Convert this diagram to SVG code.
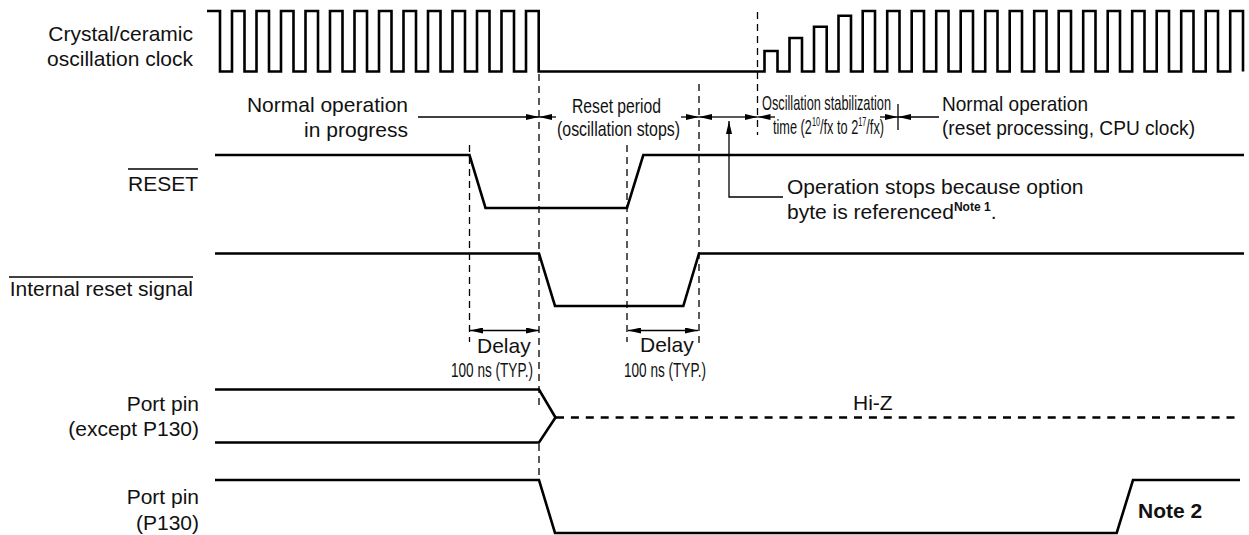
<svg xmlns="http://www.w3.org/2000/svg" width="1249" height="535" viewBox="0 0 1249 535">
<defs>
<marker id="ah" viewBox="0 0 13 6" refX="13" refY="3" markerWidth="13" markerHeight="6" markerUnits="userSpaceOnUse" orient="auto"><path d="M0 0L13 3L0 6Z" fill="#000"/></marker>
</defs>
<style>
text{font-family:"Liberation Sans",Arial,sans-serif;font-size:21px;fill:#111}
.e{text-anchor:end}
.sig{fill:none;stroke:#000;stroke-width:2.6;stroke-linejoin:miter}
.thin{fill:none;stroke:#000;stroke-width:1.3}
.arr{fill:none;stroke:#000;stroke-width:1.3;marker-end:url(#ah)}
.dash{fill:none;stroke:#000;stroke-width:1.3;stroke-dasharray:7 5}
.hiz{fill:none;stroke:#000;stroke-width:2.6;stroke-dasharray:8 6.9}
.sup{font-size:12px}
</style>
<g id="clock">
<path class="sig" d="M207 11H220V71.5H232V11H244.5V71.5H256.5V11H269V71.5H281V11H293.5V71.5H305.5V11H318V71.5H330V11H342.5V71.5H354.5V11H367V71.5H379V11H391.5V71.5H403.5V11H416V71.5H428V11H440.5V71.5H452.5V11H465V71.5H477V11H489.5V71.5H501.5V11H514V71.5H526V11H538.7V71.5H764.5V51H777.5V71.5H789.5V38H802V71.5H814V26.7H826.7V71.5H838.5V15.7H851V71.5H862.7V11H875V71.5H887.2V11H899.5V71.5H911.7V11H924V71.5H936.2V11H948.5V71.5H960.7V11H973V71.5H985.2V11H997.5V71.5H1009.7V11H1022V71.5H1034.2V11H1046.5V71.5H1058.7V11H1071V71.5H1083.2V11H1095.5V71.5H1107.7V11H1120V71.5H1132.2V11H1144.5V71.5H1156.7V11H1169V71.5H1181.2V11H1193.5V71.5H1205.7V11H1218V71.5H1230.2V11H1243V71.5"/>
<text class="e" x="193" y="41">Crystal/ceramic</text>
<text class="e" x="193" y="66">oscillation clock</text>
</g>
<g id="reset">
<path class="sig" d="M215 155H469.5L485.5 208H627L643.3 155H1244"/>
<text class="e" x="198" y="191">RESET</text>
<line class="thin" x1="128" y1="169" x2="198" y2="169"/>
</g>
<g id="internal-reset">
<path class="sig" d="M215 253.5H539L555 306H683.3L699 253.5H1244"/>
<text class="e" x="193" y="296">Internal reset signal</text>
<line class="thin" x1="9" y1="277" x2="193" y2="277"/>
</g>
<g id="port-pin">
<path class="sig" d="M215 389.5H539L555.5 417.5L539 442.5H215"/>
<path class="hiz" d="M556 417.5H1236"/>
<text class="e" x="199" y="411">Port pin</text>
<text class="e" x="199" y="436">(except P130)</text>
<text x="853" y="410">Hi-Z</text>
</g>
<g id="port-pin-p130">
<path class="sig" d="M215 480H539L555 533H1116.7L1133 480H1240"/>
<text class="e" x="199" y="504">Port pin</text>
<text class="e" x="199" y="530">(P130)</text>
<text x="1138" y="518" style="font-weight:bold">Note 2</text>
</g>
<g id="labels">
<text class="e" x="408" y="112">Normal operation</text>
<text class="e" x="408" y="137">in progress</text>
<text x="572" y="113" textLength="89" lengthAdjust="spacingAndGlyphs">Reset period</text>
<text x="557" y="136" textLength="123" lengthAdjust="spacingAndGlyphs">(oscillation stops)</text>
<text x="762" y="110" textLength="129" lengthAdjust="spacingAndGlyphs">Oscillation stabilization</text>
<text x="773" y="134" textLength="111" lengthAdjust="spacingAndGlyphs">time (2<tspan class="sup" dy="-8">10</tspan><tspan dy="8">/fx to 2</tspan><tspan class="sup" dy="-8">17</tspan><tspan dy="8">/fx)</tspan></text>
<text x="942" y="111" textLength="146" lengthAdjust="spacingAndGlyphs">Normal operation</text>
<text x="942" y="135" textLength="253" lengthAdjust="spacingAndGlyphs">(reset processing, CPU clock)</text>
<text x="787" y="194">Operation stops because option</text>
<text x="787" y="219">byte is referenced<tspan class="sup" dy="-8" style="font-weight:bold">Note 1</tspan><tspan dy="8">.</tspan></text>
<text x="477" y="353">Delay</text>
<text x="451" y="377" textLength="82" lengthAdjust="spacingAndGlyphs">100 ns (TYP.)</text>
<text x="640" y="352">Delay</text>
<text x="624" y="377" textLength="82" lengthAdjust="spacingAndGlyphs">100 ns (TYP.)</text>
</g>
<g id="connectors">
<path class="dash" d="M539 74V405M539 444V480"/>
<path class="dash" d="M469.5 145V342"/>
<path class="dash" d="M627 145V342"/>
<path class="dash" d="M699 84V345"/>
<path class="dash" d="M757.5 12V135"/>
<path class="arr" d="M418 117H539"/>
<path class="arr" d="M556 117H539"/>
<path class="arr" d="M681 117H699"/>
<path class="arr" d="M729 117H699"/>
<path class="arr" d="M729 117H757.5"/>
<path class="arr" d="M775 117H757.5"/>
<path class="arr" d="M880 117H898"/>
<path class="arr" d="M939 117H898"/>
<line class="thin" x1="898" y1="104" x2="898" y2="130"/>
<path class="arr" d="M783 197H729V121"/>
<path class="arr" d="M504 330.5H470"/>
<path class="arr" d="M504 330.5H539"/>
<path class="arr" d="M663 330.5H628"/>
<path class="arr" d="M663 330.5H698"/>
</g>
</svg>
